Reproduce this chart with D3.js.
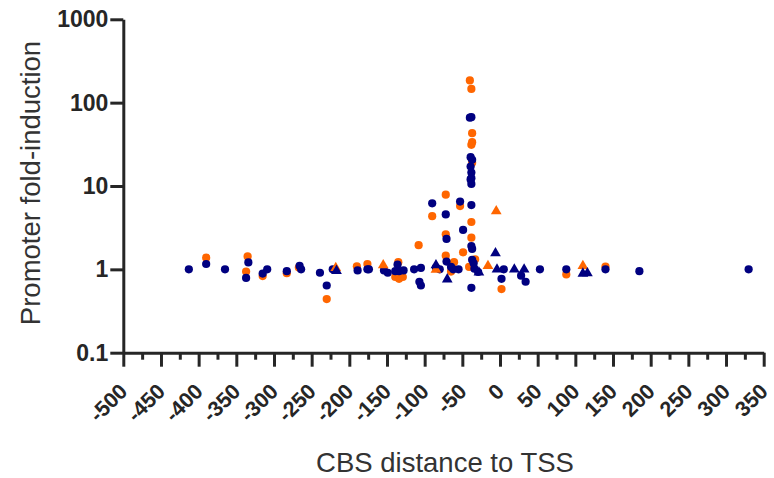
<!DOCTYPE html>
<html>
<head>
<meta charset="utf-8">
<script src="https://cdn.jsdelivr.net/npm/d3@7"></script>
<style>
  body { margin: 0; background: #fff; }
  svg text { font-family: "Liberation Sans", Arial, sans-serif; }
  .axis path, .axis line { stroke: #262626; stroke-width: 3; }
  .axis text { fill: #262626; font-weight: bold; font-size: 21.5px; }
  .yaxis text { font-size: 23px; }
  .title { fill: #333; font-size: 27.5px; }
</style>
</head>
<body>
<svg id="chart" width="774" height="478"></svg>
<script>
// [CBS distance, fold-induction]
const navyCircles = [
  [-413, 1.0], [-390, 1.16], [-365, 1.0], [-334, 1.21], [-337, 0.79],
  [-315, 0.89], [-309, 1.0], [-283, 0.95], [-266, 1.1], [-264, 1.0],
  [-239, 0.91], [-230, 0.64], [-222, 1.0], [-189, 0.97], [-176, 1.0],
  [-174, 1.0], [-154, 0.97], [-149, 0.91], [-136, 1.14], [-139, 0.95],
  [-134, 0.95], [-128, 0.97], [-114, 1.0], [-105, 1.04], [-107, 0.71],
  [-105, 0.64], [-85, 1.05], [-80, 1.0], [-90, 6.2], [-72, 4.56],
  [-71, 2.32], [-71, 1.24], [-65, 1.07], [-62, 1.0], [-55, 1.0],
  [-53, 6.5], [-49, 2.97], [-40, 66], [-38, 67], [-39, 22.2],
  [-37, 20.6], [-39, 17.1], [-38, 14.5], [-38, 12.4], [-39, 12.0],
  [-38, 10.6], [-38, 5.9], [-38, 1.9], [-37, 1.76], [-37, 1.3],
  [-35, 1.18], [-34, 1.02], [-29, 0.93], [-38, 0.6], [5, 1.0],
  [2, 0.77], [28, 0.84], [34, 0.71], [53, 1.0], [88, 1.0],
  [140, 1.0], [185, 0.95], [330, 1.0]
];
const orangeCircles = [
  [-390, 1.38], [-335, 1.43], [-337, 0.94], [-315, 0.83], [-283, 0.9],
  [-267, 1.05], [-230, 0.44], [-190, 1.09], [-176, 1.16], [-135, 1.22],
  [-139, 0.81], [-134, 0.77], [-129, 0.81], [-108, 1.95], [-90, 4.35],
  [-72, 7.86], [-72, 2.63], [-72, 1.46], [-61, 1.22], [-65, 0.94],
  [-53, 5.75], [-49, 1.6], [-40, 185], [-38, 146], [-37, 43],
  [-37, 33.6], [-38, 31.2], [-37, 19], [-38, 3.7], [-38, 2.4],
  [-41, 1.07], [-33, 1.32], [2, 0.58], [88, 0.87], [140, 1.08]
];
const orangeTriangles = [
  [-218, 1.04], [-155, 1.12], [-85, 0.99], [-16, 1.1], [-5, 5.0], [110, 1.1]
];
const navyTriangles = [
  [-217, 0.96], [-85, 1.12], [-70, 0.76], [-28, 0.92], [-6, 1.56],
  [-4, 1.0], [19, 1.0], [32, 1.0], [110, 0.89], [116, 0.9]
];
const xMajor = d3.range(-500, 351, 50);
const xMinor = d3.range(-475, 350, 50);
const yTicks = [0.1, 1, 10, 100, 1000];
const yTickLabels = ["0.1", "1", "10", "100", "1000"];

const navy = "#000080";
const orange = "#ff6600";

const svg = d3.select("#chart");
const x = d3.scaleLinear().domain([-500, 350]).range([123.3, 763.7]);
const y = d3.scaleLog().domain([0.1, 1000]).range([352.7, 19.3]);

// x axis: minor ticks first, then majors with labels
svg.append("g")
    .attr("class", "axis")
    .attr("transform", `translate(0,${y(0.1)})`)
    .call(d3.axisBottom(x).tickValues(xMinor).tickSize(7).tickSizeOuter(0).tickFormat(""))
    .select(".domain").remove();

const xg = svg.append("g")
    .attr("class", "axis")
    .attr("transform", `translate(0,${y(0.1)})`)
    .call(d3.axisBottom(x).tickValues(xMajor).tickSize(14).tickSizeOuter(0).tickFormat(d => String(d)));
xg.selectAll(".tick text")
    .attr("text-anchor", "end")
    .attr("x", 0)
    .attr("y", 0)
    .attr("dy", 0)
    .attr("transform", "translate(5,40) rotate(-45)");

const yg = svg.append("g")
    .attr("class", "axis yaxis")
    .attr("transform", `translate(${x(-500)},0)`)
    .call(d3.axisLeft(y).tickValues(yTicks).tickSize(13).tickSizeOuter(0)
        .tickFormat((d, i) => yTickLabels[i]));
yg.selectAll("text").attr("x", -15);

// points
const sym = d3.symbol().type(d3.symbolTriangle).size(50);

svg.append("g").selectAll("circle")
    .data(orangeCircles)
    .join("circle")
    .attr("cx", d => x(d[0]))
    .attr("cy", d => y(d[1]))
    .attr("r", 4.1)
    .attr("fill", orange);

svg.append("g").selectAll("circle")
    .data(navyCircles)
    .join("circle")
    .attr("cx", d => x(d[0]))
    .attr("cy", d => y(d[1]))
    .attr("r", 4.1)
    .attr("fill", navy);

svg.append("g").selectAll("path")
    .data(orangeTriangles)
    .join("path")
    .attr("d", sym)
    .attr("transform", d => `translate(${x(d[0])},${y(d[1])})`)
    .attr("fill", orange);

svg.append("g").selectAll("path")
    .data(navyTriangles)
    .join("path")
    .attr("d", sym)
    .attr("transform", d => `translate(${x(d[0])},${y(d[1])})`)
    .attr("fill", navy);

// titles
svg.append("text")
    .attr("class", "title")
    .attr("text-anchor", "middle")
    .attr("x", 445)
    .attr("y", 472)
    .text("CBS distance to TSS");

svg.append("text")
    .attr("class", "title")
    .attr("text-anchor", "middle")
    .attr("transform", "translate(40,183) rotate(-90)")
    .text("Promoter fold-induction");
</script>
</body>
</html>
